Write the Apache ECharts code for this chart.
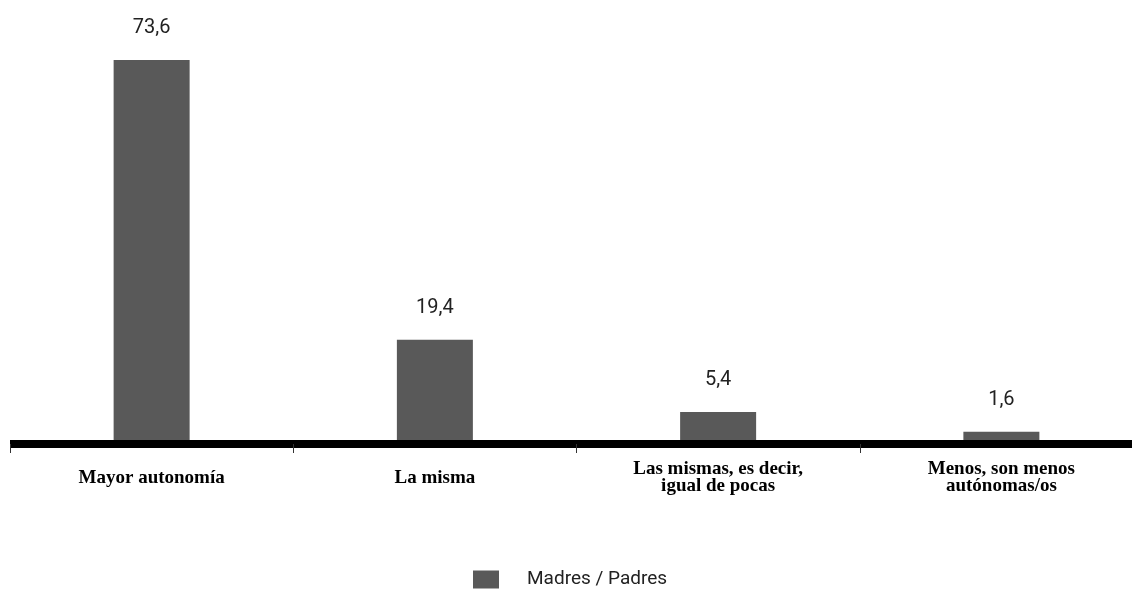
<!DOCTYPE html>
<html>
<head>
<meta charset="utf-8">
<script src="https://cdn.jsdelivr.net/npm/echarts@6/dist/echarts.min.js"></script>
<style>
html,body{margin:0;padding:0;background:#fff;}
#chart{width:1132px;height:589px;}
</style>
</head>
<body>
<div id="chart"></div>
<script>
var categories = ['Mayor autonomía', 'La misma', 'Las mismas, es decir,\nigual de pocas', 'Menos, son menos\nautónomas/os'];
var seriesName = 'Madres / Padres';
var values = [73.6, 19.4, 5.4, 1.6];

var chart = echarts.init(document.getElementById('chart'));
chart.setOption({
  animation: false,
  backgroundColor: '#ffffff',
  grid: { left: 10, width: 1133, top: 27, bottom: 149, containLabel: false, outerBoundsMode: 'none' },
  legend: {
    data: [seriesName],
    top: 565,
    left: 468,
    itemWidth: 26,
    itemHeight: 18,
    itemGap: 10,
    icon: 'rect',
    textStyle: { fontFamily: '"Roboto", sans-serif', fontSize: 19, color: '#222', padding: [0, 0, 0, 23] }
  },
  xAxis: {
    type: 'category',
    data: categories,
    z: 5,
    offset: 4,
    axisLine: { onZero: false, lineStyle: { color: '#000', width: 8, cap: 'butt' } },
    axisTick: { show: true, length: 9, lineStyle: { color: '#333', width: 1 } },
    axisLabel: {
      margin: 34,
      interval: 0,
      verticalAlign: 'middle',
      fontFamily: '"Liberation Serif", "Times New Roman", serif',
      fontWeight: 'bold',
      fontSize: 19,
      lineHeight: 17,
      color: '#000'
    }
  },
  yAxis: {
    type: 'value',
    min: 0,
    max: 80,
    show: false,
    splitLine: { show: false }
  },
  series: [{
    name: seriesName,
    type: 'bar',
    data: values,
    barWidth: 76,
    itemStyle: { color: '#595959' },
    label: {
      show: true,
      position: 'top',
      distance: 22,
      formatter: function (p) { return p.value.toFixed(1).replace('.', ','); },
      fontFamily: '"Roboto", sans-serif',
      fontSize: 20,
      color: '#222'
    }
  }]
});
</script>
</body>
</html>
